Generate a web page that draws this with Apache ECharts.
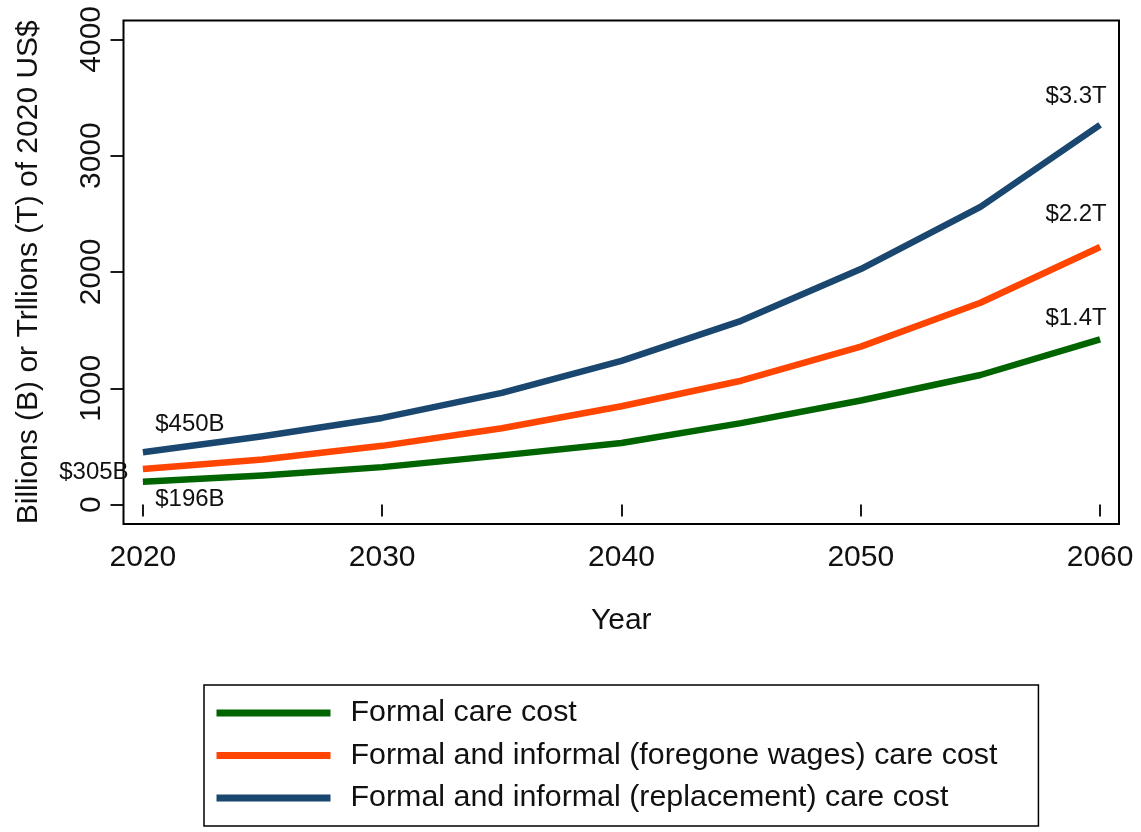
<!DOCTYPE html>
<html>
<head>
<meta charset="utf-8">
<script src="https://cdn.jsdelivr.net/npm/echarts@6/dist/echarts.min.js"></script>
<style>
html,body{margin:0;padding:0;background:#fff;}
#chart{width:1141px;height:832px;}
</style>
</head>
<body>
<div id="chart"></div>
<script>
// ---- data ----
var years = [2020, 2025, 2030, 2035, 2040, 2045, 2050, 2055, 2060];
var formalCare = [196, 250, 322, 423, 530, 700, 895, 1114, 1421];
var foregoneWages = [305, 388, 505, 656, 845, 1065, 1358, 1735, 2215];
var replacementCost = [450, 588, 745, 960, 1235, 1580, 2025, 2560, 3265];
var seriesNames = [
  'Formal care cost',
  'Formal and informal (foregone wages) care cost',
  'Formal and informal (replacement) care cost'
];
var startLabels = ['$196B', '$305B', '$450B'];
var endLabels = ['$1.4T', '$2.2T', '$3.3T'];
var xTicks = [2020, 2030, 2040, 2050, 2060];
var yTicks = [0, 1000, 2000, 3000, 4000];

// ---- styling ----
var FONT = '"Liberation Sans", Arial, Helvetica, sans-serif';
var colors = ['#006400', '#ff4500', '#1a476f'];
var startOffsets = [[47, 18], [-49, 3], [47, -28]];
var endOffsets = [[-24, -21], [-24, -33], [-24, -28]];
var allValues = [formalCare, foregoneWages, replacementCost];

function pairs(vals) {
  return years.map(function (y, i) { return [y, vals[i]]; });
}
function plain(v) { return String(v); }

var series = allValues.map(function (vals, k) {
  return {
    name: seriesNames[k],
    type: 'line',
    data: pairs(vals),
    showSymbol: false,
    symbol: 'none',
    smooth: false,
    color: colors[k],
    lineStyle: { width: 6.5, color: colors[k], cap: 'butt', join: 'round' },
    z: 3,
    markPoint: {
      symbol: 'circle',
      symbolSize: 0,
      silent: true,
      itemStyle: { color: 'transparent' },
      label: {
        show: true,
        position: 'inside',
        fontFamily: FONT,
        fontSize: 24,
        color: '#111'
      },
      data: [
        { type: 'min', label: { formatter: startLabels[k], offset: startOffsets[k] } },
        { type: 'max', label: { formatter: endLabels[k], offset: endOffsets[k] } }
      ]
    }
  };
});

var chart = echarts.init(document.getElementById('chart'), null, { renderer: 'canvas' });
chart.setOption({
  animation: false,
  backgroundColor: '#fff',
  grid: {
    left: 123.5, right: 22, top: 20.5, bottom: 308,
    show: true, borderColor: '#000', borderWidth: 2, backgroundColor: '#fff'
  },
  xAxis: {
    type: 'value',
    min: 2019.19, max: 2060.79,
    name: 'Year',
    nameLocation: 'middle',
    nameGap: 82,
    nameTextStyle: { fontFamily: FONT, fontSize: 30, color: '#111' },
    axisLine: { show: false },
    splitLine: { show: false },
    axisTick: { show: true, length: 12, lineStyle: { color: '#000', width: 1.8 }, customValues: xTicks },
    axisLabel: { fontFamily: FONT, fontSize: 30, color: '#111', margin: 19, customValues: xTicks, formatter: plain }
  },
  yAxis: {
    type: 'value',
    min: -167, max: 4162,
    name: 'Billions (B) or Trllions (T) of 2020 US$',
    nameLocation: 'middle',
    nameGap: 80,
    nameTextStyle: { fontFamily: FONT, fontSize: 30, color: '#111' },
    axisLine: { show: false },
    splitLine: { show: false },
    axisTick: { show: true, length: 13, lineStyle: { color: '#000', width: 1.8 }, customValues: yTicks },
    axisLabel: { fontFamily: FONT, fontSize: 30, color: '#111', rotate: 90, margin: 17, customValues: yTicks, formatter: plain }
  },
  legend: {
    orient: 'vertical',
    left: 204, top: 685,
    backgroundColor: '#fff',
    borderColor: '#000', borderWidth: 1.5, borderRadius: 0,
    padding: [13, 41, 13, 12.5],
    itemGap: 12.5,
    itemWidth: 114, itemHeight: 7,
    icon: 'rect',
    selectedMode: false,
    data: seriesNames,
    textStyle: { fontFamily: FONT, fontSize: 30.4, color: '#111', padding: [0, 0, 0, 15] }
  },
  series: series
});
</script>
</body>
</html>
